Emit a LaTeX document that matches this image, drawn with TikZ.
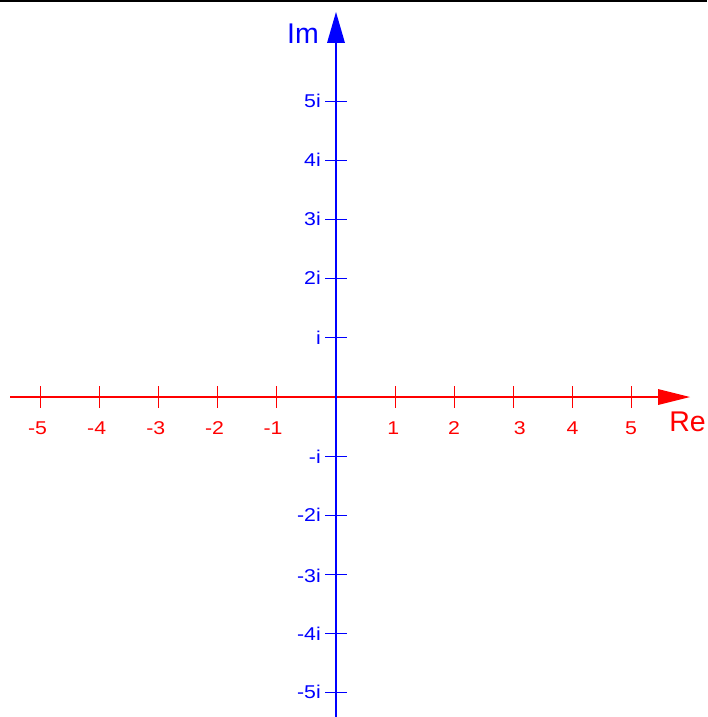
\documentclass[tikz,border=0pt]{standalone}
\usepackage{fontspec}
\setmainfont{Liberation Sans}
\newfontfamily\widesans[FakeStretch=1.15]{Liberation Sans}
\begin{document}
\begin{tikzpicture}[x=1pt,y=-1pt,
  redax/.style={draw=red,line width=1.1pt},
  blueax/.style={draw=blue,line width=1.1pt},
  rlab/.style={text=red,font=\widesans\fontsize{18.5}{18.5}\selectfont,inner sep=0pt},
  blab/.style={text=blue,font=\widesans\fontsize{18.5}{18.5}\selectfont,inner sep=0pt,anchor=east},
  biglab/.style={font=\fontsize{28.5}{28.5}\selectfont,inner sep=0pt}]
\useasboundingbox (0,0) rectangle (707,717);
\draw[line width=2pt] (0,1) -- (707,1);
% coordinates
\coordinate (xl) at (10,397);
\coordinate (xa) at (658,397);
\coordinate (yb) at (336,717);
\coordinate (ya) at (336,43);
\draw[redax] (xl) -- (xa);
\draw[blueax] (yb) -- (ya);
\fill[red] (658,389) -- (690,397) -- (658,405) -- cycle;
\fill[blue] (327,43) -- (336,12) -- (345,43) -- cycle;
% real ticks
\foreach \k/\lx in {-5/37.5,-4/96.7,-3/155.8,-2/214.5,-1/273,1/393.3,2/454,3/519.7,4/572.5,5/631}{
  \pgfmathsetmacro{\tx}{336+59.1*\k}
  \draw[redax] (\tx,386) -- (\tx,408);
  \node[rlab] (r\k) at (\lx,428) {\k};
}
% imaginary ticks
\foreach \k/\ly/\t in {5/101/5i,4/160/4i,3/219/3i,2/278/2i,1/338/i,-1/457/-i,-2/515/-2i,-3/576/-3i,-4/634/-4i,-5/692/-5i}{
  \pgfmathsetmacro{\ty}{397-59.1*\k}
  \draw[blueax] (325,\ty) -- (347,\ty);
  \node[blab] (i\k) at (321,\ly) {\t};
}
\node[biglab,text=blue] (im) at (303,34) {Im};
\node[biglab,text=red] (re) at (687.5,421.7) {Re};
\end{tikzpicture}
\end{document}
